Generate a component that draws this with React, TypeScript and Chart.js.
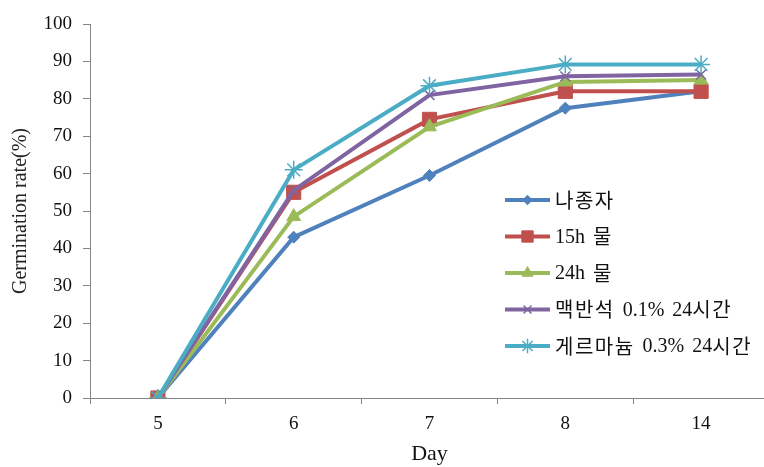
import React, { useEffect, useRef } from "react";
import { Chart, registerables } from "chart.js";
import { drawPoint } from "chart.js/helpers";

Chart.register(...registerables);

// Days after sowing
const days = ["5", "6", "7", "8", "14"];

// Germination rate (%) per treatment
const seriesNames = [
  "나종자",
  "15h 물",
  "24h 물",
  "맥반석 0.1% 24시간",
  "게르마늄 0.3% 24시간",
];
const untreated = [0, 43, 59.5, 77.5, 82];
const water15h = [0, 55, 74.5, 82, 82];
const water24h = [0, 48.5, 72.5, 84.5, 85];
const elvan = [0, 55.5, 81, 86, 86.5];
const germanium = [0, 61, 83.5, 89.2, 89.2];

const seriesValues = [untreated, water15h, water24h, elvan, germanium];
const seriesColors = ["#4F81BD", "#C0504D", "#9BBB59", "#8064A2", "#4BACC6"];
const seriesMarkers = ["rectRot", "rect", "triangle", "crossRot", "star"];
const markerRadius = [6, 10, 8, 7, 9];

const yTicks = [0, 10, 20, 30, 40, 50, 60, 70, 80, 90, 100];

const SERIF = "'Liberation Serif', 'Times New Roman', serif";
const HANGUL_FONT = "20px 'Noto Sans CJK KR', sans-serif";
const LATIN_FONT = "20px 'Liberation Serif', serif";
const AXIS_COLOR = "#868686";

// Draws a label run by run: Hangul in a sans face, Latin/digits in serif
function drawMixedText(ctx: CanvasRenderingContext2D, text: string, x: number, y: number) {
  const runs = text.match(/[\uAC00-\uD7A3]+|\s+|[^\s\uAC00-\uD7A3]+/g) || [];
  let cx = x;
  for (const run of runs) {
    if (/^\s+$/.test(run)) {
      cx += 8 * run.length;
      continue;
    }
    const hangul = /[\uAC00-\uD7A3]/.test(run);
    ctx.font = hangul ? HANGUL_FONT : LATIN_FONT;
    if (hangul) {
      for (const ch of run) {
        ctx.fillText(ch, cx, y);
        cx += ctx.measureText(ch).width + 1.5;
      }
    } else {
      ctx.fillText(run, cx, y + 1);
      cx += ctx.measureText(run).width;
    }
  }
}

// Legend drawn inside the plot, at the lower right
const insideLegend = {
  id: "insideLegend",
  afterDraw(chart: any) {
    const ctx = chart.ctx;
    const x0 = 505;
    const x1 = 550;
    const yStart = 200;
    const step = 36.5;
    ctx.save();
    chart.data.datasets.forEach((ds: any, i: number) => {
      const y = yStart + i * step;
      ctx.strokeStyle = ds.borderColor;
      ctx.lineWidth = 4;
      ctx.beginPath();
      ctx.moveTo(x0, y);
      ctx.lineTo(x1, y);
      ctx.stroke();
      ctx.fillStyle = ds.pointBackgroundColor;
      ctx.strokeStyle = ds.pointBorderColor;
      ctx.lineWidth = ds.pointBorderWidth;
      drawPoint(
        ctx,
        { pointStyle: ds.pointStyle, radius: ds.pointRadius * 0.8, rotation: 0, borderWidth: ds.pointBorderWidth } as any,
        (x0 + x1) / 2,
        y
      );
      ctx.fillStyle = "#111";
      ctx.textAlign = "left";
      ctx.textBaseline = "middle";
      drawMixedText(ctx, ds.label, x1 + 5, y);
    });
    ctx.restore();
  },
};

export default function App() {
  const canvasRef = useRef<HTMLCanvasElement | null>(null);

  useEffect(() => {
    const canvas = canvasRef.current;
    if (!canvas) return;

    const datasets = seriesNames.map((name, i) => {
      const stroked = seriesMarkers[i] === "crossRot" || seriesMarkers[i] === "star";
      return {
        label: name,
        data: seriesValues[i],
        borderColor: seriesColors[i],
        backgroundColor: seriesColors[i],
        borderWidth: 4,
        pointStyle: seriesMarkers[i],
        pointRadius: markerRadius[i],
        pointBackgroundColor: seriesColors[i],
        pointBorderColor: seriesColors[i],
        pointBorderWidth: stroked ? 1.5 : 1,
        tension: 0,
        order: seriesNames.length - i,
      };
    });

    const chart = new Chart(canvas, {
      type: "line",
      data: { labels: days, datasets },
      plugins: [insideLegend],
      options: {
        animation: false,
        responsive: false,
        maintainAspectRatio: false,
        layout: { padding: { top: 24, right: 4, left: 0, bottom: 0 } },
        plugins: {
          legend: { display: false },
          tooltip: { enabled: false },
        },
        scales: {
          x: {
            type: "category",
            offset: true,
            grid: {
              display: true,
              offset: true,
              drawOnChartArea: false,
              drawTicks: true,
              tickLength: 6,
              color: AXIS_COLOR,
            },
            border: { display: true, color: AXIS_COLOR, width: 1 },
            ticks: {
              color: "#111",
              font: { family: SERIF, size: 19 },
              padding: 9,
              maxRotation: 0,
            },
            title: {
              display: true,
              text: "Day",
              color: "#111",
              font: { family: SERIF, size: 22 },
              padding: { top: 2, bottom: 0 },
            },
            afterFit(scale: any) {
              scale.height = 69;
            },
          },
          y: {
            min: 0,
            max: 100,
            afterBuildTicks(scale: any) {
              scale.ticks = yTicks.map((v) => ({ value: v }));
            },
            grid: {
              display: true,
              drawOnChartArea: false,
              drawTicks: true,
              tickLength: 7,
              color: AXIS_COLOR,
            },
            border: { display: true, color: AXIS_COLOR, width: 1 },
            ticks: {
              color: "#111",
              font: { family: SERIF, size: 19 },
              padding: 11,
            },
            title: {
              display: true,
              text: "Germination rate(%)",
              color: "#222",
              font: { family: SERIF, size: 20 },
              padding: { top: 9, bottom: 0 },
            },
            afterFit(scale: any) {
              scale.width = 90;
            },
          },
        },
      },
    } as any);

    return () => chart.destroy();
  }, []);

  return (
    <div
      style={{
        position: "fixed",
        left: 0,
        top: 0,
        width: 764,
        height: 467,
        overflow: "hidden",
        background: "#fff",
      }}
    >
      <canvas ref={canvasRef} width={780} height={467} style={{ display: "block" }} />
    </div>
  );
}
